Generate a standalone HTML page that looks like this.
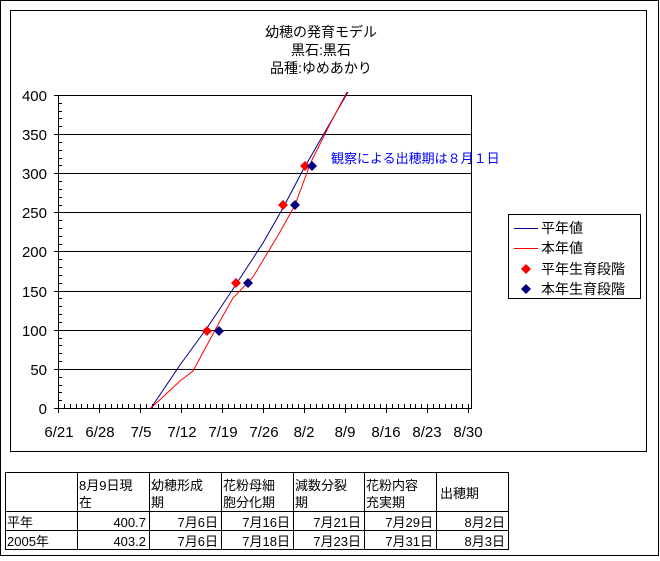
<!DOCTYPE html>
<html><head><meta charset="utf-8"><style>
body{margin:0;background:#fff;}
svg text{font-family:"Liberation Sans","Noto Sans CJK JP",sans-serif;}
</style></head><body>
<svg width="660" height="556" xmlns="http://www.w3.org/2000/svg" shape-rendering="crispEdges">
<rect x="0.5" y="0.5" width="658" height="555" fill="#fff" stroke="#000"/>
<rect x="10.5" y="10.5" width="636" height="441" fill="#fff" stroke="#000"/>
<g font-size="14" text-anchor="middle" fill="#000">
<text x="321" y="37">幼穂の発育モデル</text>
<text x="321" y="55">黒石:黒石</text>
<text x="321" y="73">品種:ゆめあかり</text>
</g>
<g stroke="#000" stroke-width="1">
<line x1="58" y1="95.5" x2="472" y2="95.5"/>
<line x1="58" y1="134.5" x2="472" y2="134.5"/>
<line x1="58" y1="173.5" x2="472" y2="173.5"/>
<line x1="58" y1="212.5" x2="472" y2="212.5"/>
<line x1="58" y1="251.5" x2="472" y2="251.5"/>
<line x1="58" y1="291.5" x2="472" y2="291.5"/>
<line x1="58" y1="330.5" x2="472" y2="330.5"/>
<line x1="58" y1="369.5" x2="472" y2="369.5"/>
<line x1="58" y1="408.5" x2="472" y2="408.5"/>
<line x1="471.5" y1="95" x2="471.5" y2="408"/>
<line x1="58.5" y1="95" x2="58.5" y2="413"/>
</g>
<path stroke="#000" fill="none" d="M54 408.5h8M58 400.5h4M58 392.5h4M58 385.5h4M58 377.5h4M54 369.5h8M58 361.5h4M58 353.5h4M58 345.5h4M58 338.5h4M54 330.5h8M58 322.5h4M58 314.5h4M58 306.5h4M58 298.5h4M54 291.5h8M58 283.5h4M58 275.5h4M58 267.5h4M58 259.5h4M54 251.5h8M58 244.5h4M58 236.5h4M58 228.5h4M58 220.5h4M54 212.5h8M58 205.5h4M58 197.5h4M58 189.5h4M58 181.5h4M54 173.5h8M58 165.5h4M58 158.5h4M58 150.5h4M58 142.5h4M54 134.5h8M58 126.5h4M58 118.5h4M58 111.5h4M58 103.5h4M54 95.5h8
M58.5 404v9M64.5 404v4M70.5 404v4M76.5 404v4M81.5 404v4M87.5 404v4M93.5 404v4M99.5 404v9M105.5 404v4M111.5 404v4M117.5 404v4M122.5 404v4M128.5 404v4M134.5 404v4M140.5 404v9M146.5 404v4M152.5 404v4M158.5 404v4M163.5 404v4M169.5 404v4M175.5 404v4M181.5 404v9M187.5 404v4M193.5 404v4M199.5 404v4M205.5 404v4M210.5 404v4M216.5 404v4M222.5 404v9M228.5 404v4M234.5 404v4M240.5 404v4M246.5 404v4M251.5 404v4M257.5 404v4M263.5 404v9M269.5 404v4M275.5 404v4M281.5 404v4M287.5 404v4M292.5 404v4M298.5 404v4M304.5 404v9M310.5 404v4M316.5 404v4M322.5 404v4M328.5 404v4M333.5 404v4M339.5 404v4M345.5 404v9M351.5 404v4M357.5 404v4M363.5 404v4M369.5 404v4M374.5 404v4M380.5 404v4M386.5 404v9M392.5 404v4M398.5 404v4M404.5 404v4M410.5 404v4M415.5 404v4M421.5 404v4M427.5 404v9M433.5 404v4M439.5 404v4M445.5 404v4M451.5 404v4M456.5 404v4M462.5 404v4M468.5 404v9"/>
<g font-size="15" text-anchor="end">
<text x="47" y="101">400</text><text x="47" y="140">350</text><text x="47" y="179">300</text>
<text x="47" y="218">250</text><text x="47" y="257">200</text><text x="47" y="297">150</text>
<text x="47" y="336">100</text><text x="47" y="375">50</text><text x="47" y="414">0</text>
</g>
<g font-size="15" text-anchor="middle">
<text x="59" y="437">6/21</text><text x="100" y="437">6/28</text><text x="141" y="437">7/5</text>
<text x="182" y="437">7/12</text><text x="223" y="437">7/19</text><text x="264" y="437">7/26</text>
<text x="304" y="437">8/2</text><text x="345" y="437">8/9</text><text x="386" y="437">8/16</text>
<text x="427" y="437">8/23</text><text x="468" y="437">8/30</text>
</g>
<g shape-rendering="auto" fill="none">
<polyline stroke="#000080" points="151,408 180,365 207,328 233,289 263,243 283,208 303,170 348,92"/>
<polyline stroke="#ff0000" points="151,408 165,395 180,381 193,371 207,345 220,321 233,298 253,277 280,232 295,205 305,178 312,160 330,124 347,92"/>
</g>
<g shape-rendering="auto">
<g fill="#ff0000">
<path d="M207 326l5 5-5 5-5-5z"/><path d="M236 278l5 5-5 5-5-5z"/><path d="M283 200l5 5-5 5-5-5z"/><path d="M305 161l5 5-5 5-5-5z"/>
</g>
<g fill="#000080">
<path d="M219 326l5 5-5 5-5-5z"/><path d="M248 278l5 5-5 5-5-5z"/><path d="M295 200l5 5-5 5-5-5z"/><path d="M312 161l5 5-5 5-5-5z"/>
</g>
</g>
<text x="331" y="163" font-size="13" fill="#0000ff">観察による出穂期は８月１日</text>
<rect x="508.5" y="214.5" width="132" height="84" fill="#fff" stroke="#000"/>
<line x1="514" y1="228.5" x2="538" y2="228.5" stroke="#000080"/>
<line x1="514" y1="248.5" x2="538" y2="248.5" stroke="#ff0000"/>
<path d="M526 264l5 5-5 5-5-5z" fill="#ff0000" shape-rendering="auto"/>
<path d="M526 284l5 5-5 5-5-5z" fill="#000080" shape-rendering="auto"/>
<g font-size="14">
<text x="541" y="233">平年値</text><text x="541" y="253">本年値</text>
<text x="541" y="274">平年生育段階</text><text x="541" y="294">本年生育段階</text>
</g>
<g stroke="#000">
<rect x="5.5" y="472.5" width="503" height="77" fill="none"/>
<line x1="5" y1="511.5" x2="508" y2="511.5"/>
<line x1="5" y1="530.5" x2="508" y2="530.5"/>
<line x1="77.5" y1="472" x2="77.5" y2="550"/>
<line x1="149.5" y1="472" x2="149.5" y2="550"/>
<line x1="221.5" y1="472" x2="221.5" y2="550"/>
<line x1="293.5" y1="472" x2="293.5" y2="550"/>
<line x1="364.5" y1="472" x2="364.5" y2="550"/>
<line x1="436.5" y1="472" x2="436.5" y2="550"/>
</g>
<g font-size="13">
<text x="79" y="490">8月9日現</text><text x="79" y="507">在</text>
<text x="151" y="490">幼穂形成</text><text x="151" y="507">期</text>
<text x="223" y="490">花粉母細</text><text x="223" y="507">胞分化期</text>
<text x="295" y="490">減数分裂</text><text x="295" y="507">期</text>
<text x="366" y="490">花粉内容</text><text x="366" y="507">充実期</text>
<text x="440" y="498">出穂期</text>
<text x="7" y="527">平年</text><text x="7" y="546">2005年</text>
</g>
<g font-size="13" text-anchor="end">
<text x="146" y="527">400.7</text><text x="218" y="527">7月6日</text><text x="290" y="527">7月16日</text>
<text x="361" y="527">7月21日</text><text x="433" y="527">7月29日</text><text x="505" y="527">8月2日</text>
<text x="146" y="546">403.2</text><text x="218" y="546">7月6日</text><text x="290" y="546">7月18日</text>
<text x="361" y="546">7月23日</text><text x="433" y="546">7月31日</text><text x="505" y="546">8月3日</text>
</g>
</svg>
</body></html>
